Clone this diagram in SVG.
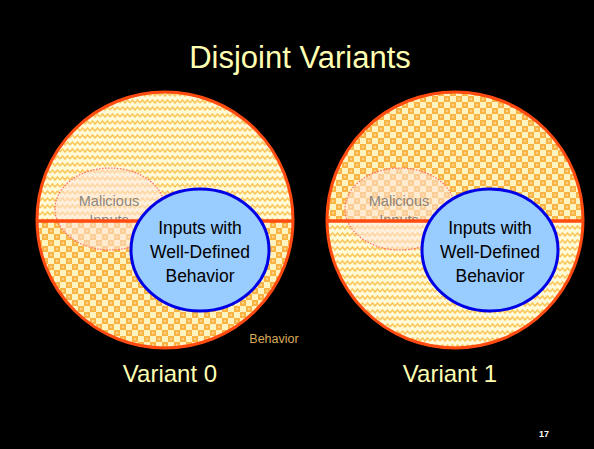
<svg xmlns="http://www.w3.org/2000/svg" width="594" height="449" viewBox="0 0 594 449">
<style>
.t{font-family:"Liberation Sans","Open Sans",sans-serif;text-anchor:middle}
.title{fill:#FFFFB3;font-size:31px}
.var{fill:#FFFFB3;font-size:24px}
.blue{fill:#99CCFF;stroke:#0000E6;stroke-width:3}
.bt{fill:#000;font-size:17.5px}
.outer{fill:none;stroke:#FF4A10;stroke-width:3}
.div{stroke:#FF4A10;stroke-width:3.5}
.mal{fill:#FFE4DC;fill-opacity:0.55;stroke:#FF6A6A;stroke-width:1.2;stroke-dasharray:1.5 1.5}
.mt{fill:#7A7A7A;fill-opacity:0.9;font-size:14.5px}
</style>
<defs>
<pattern id="wave" width="10" height="7" patternUnits="userSpaceOnUse">
<rect width="10" height="7" fill="#FFFAD8"/>
<path d="M0 5 L2.5 2 L5 5 L7.5 2 L10 5" fill="none" stroke="#FCC75C" stroke-width="1.6"/>
</pattern>
<pattern id="check" width="12" height="12" patternUnits="userSpaceOnUse">
<rect width="12" height="12" fill="#FFF4C0"/>
<rect width="6" height="6" fill="#F9B444"/>
<rect x="6" y="6" width="6" height="6" fill="#F9B444"/>
<rect x="2" y="2" width="2" height="2" fill="#FFD488"/>
<rect x="8" y="8" width="2" height="2" fill="#FFD488"/>
</pattern>
<clipPath id="topL"><rect x="0" y="0" width="594" height="220"/></clipPath>
</defs>
<rect width="594" height="449" fill="#000"/>
<text class="t title" x="300" y="68">Disjoint Variants</text>

<g id="variant0">
<path d="M37 221 A128 128 0 0 1 293 221 Z" fill="url(#wave)"/>
<path d="M37 221 A128 128 0 0 0 293 221 Z" fill="url(#check)"/>
<g id="malicious0">
<ellipse class="mal" cx="110" cy="209" rx="55" ry="41"/>
<text class="t mt" x="109" y="206">Malicious</text>
<text class="t mt" x="109" y="225" clip-path="url(#topL)">Inputs</text>
</g>
<line class="div" x1="37" y1="221" x2="293" y2="221"/>
<circle class="outer" cx="165" cy="220" r="128"/>
<g id="wellDefined0">
<ellipse class="blue" cx="200" cy="250" rx="69" ry="61"/>
<text class="t bt" x="200" y="234">Inputs with</text>
<text class="t bt" x="200" y="258">Well-Defined</text>
<text class="t bt" x="200" y="282">Behavior</text>
</g>
<text class="t" x="274" y="343" style="fill:#D9A95A;font-size:12.5px">Behavior</text>
<text class="t var" x="170" y="382">Variant 0</text>
</g>

<g id="variant1">
<path d="M327 221 A128 128 0 0 1 583 221 Z" fill="url(#check)"/>
<path d="M327 221 A128 128 0 0 0 583 221 Z" fill="url(#wave)"/>
<g id="malicious1">
<ellipse class="mal" cx="400" cy="209" rx="55" ry="41"/>
<text class="t mt" x="399" y="206">Malicious</text>
<text class="t mt" x="399" y="225" clip-path="url(#topL)">Inputs</text>
</g>
<line class="div" x1="327" y1="221" x2="583" y2="221"/>
<circle class="outer" cx="455" cy="220" r="128"/>
<g id="wellDefined1">
<ellipse class="blue" cx="490" cy="250" rx="68" ry="61"/>
<text class="t bt" x="490" y="234">Inputs with</text>
<text class="t bt" x="490" y="258">Well-Defined</text>
<text class="t bt" x="490" y="282">Behavior</text>
</g>
<text class="t var" x="450" y="382">Variant 1</text>
</g>

<text class="t" x="544" y="437" style="fill:#fff;font-size:9px;font-weight:bold">17</text>
</svg>
